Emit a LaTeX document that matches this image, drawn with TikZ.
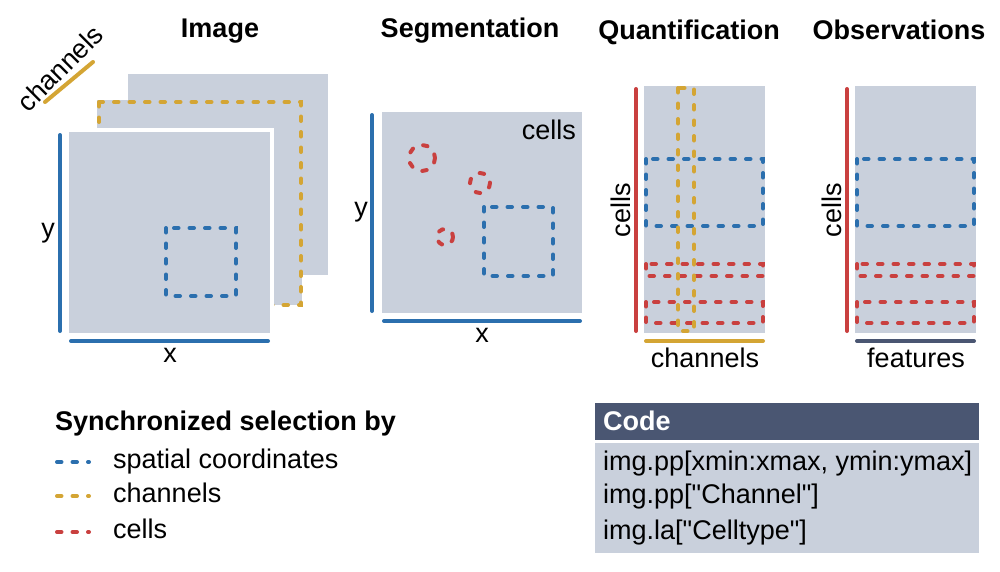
\documentclass[tikz,border=0pt]{standalone}
\usepackage{fontspec}
\setmainfont{Liberation Sans}
\newfontfamily\codefont{Liberation Sans}[Ligatures=ResetAll]
\usepackage{tikz}

\definecolor{panel}{HTML}{C9D0DC}
\definecolor{selblue}{HTML}{2B6FAE}
\definecolor{selgold}{HTML}{D4A534}
\definecolor{selred}{HTML}{C9403F}
\definecolor{slate}{HTML}{4A5672}

\tikzset{
  axis/.style={line width=4pt, line cap=round},
  sel/.style={line width=4pt, line cap=round, dash pattern=on 4.5pt off 11pt},
  lbl/.style={font=\fontsize{27}{32}\selectfont, inner sep=0pt},
  ttl/.style={font=\fontsize{27}{32}\selectfont\bfseries, inner sep=0pt, anchor=base},
  codeline/.style={font=\codefont\fontsize{27}{32}\selectfont, inner sep=0pt, anchor=base west},
}

\begin{document}
\begin{tikzpicture}[x=1pt, y=-1pt]
    \useasboundingbox (0,0) rectangle (1000,571);

    % Titles
    \node[ttl] (tImage) at (220,37) {Image};
    \node[ttl] (tSeg) at (470,37) {Segmentation};
    \node[ttl] (tQuant) at (689,39) {Quantification};
    \node[ttl] (tObs) at (899,39) {Observations};

    % Image: stack of channels
    \fill[panel] (128,74) rectangle (328,275);
    \fill[panel] (97,100) rectangle (302,305);
    \draw[sel, selgold] (99,102) rectangle (301,305);
    \fill[white] (65,128) rectangle (274,337);
    \fill[panel] (69,132) rectangle (270,333);
    \draw[sel, selblue] (166,228) rectangle (236,296);

    \draw[axis, selblue] (60,135) -- (60,331);
    \draw[axis, selblue] (71,341) -- (268,341);
    \node[lbl, anchor=base] (imgY) at (48,237) {y};
    \node[lbl, anchor=base] (imgX) at (170,362) {x};

    \draw[axis, selgold] (45,102) -- (93,62);
    \node[lbl, rotate=45] (imgC) at (60,68) {channels};

    % Segmentation
    \fill[panel] (382,112) rectangle (582,313);
    \draw[sel, selblue] (484,207) rectangle (553,276);
    \foreach \cx/\cy/\r in {422/158/13, 480/183/10, 445/237/8} {
      \draw[sel, selred] (\cx,\cy) circle (\r);
    }
    \node[lbl, anchor=base east] (segCells) at (576,139) {cells};

    \draw[axis, selblue] (372,115) -- (372,311);
    \draw[axis, selblue] (384,321) -- (580,321);
    \node[lbl, anchor=base] (segY) at (361,216) {y};
    \node[lbl, anchor=base] (segX) at (482,342) {x};

    % Quantification and Observations
    \foreach \x/\name in {644/quant, 855/obs} {
      \fill[panel] (\x,86) rectangle ({\x+121},333);
      \draw[sel, selblue] ({\x+2},159) rectangle ({\x+119},226);
      \draw[sel, selred] ({\x+2},264) rectangle ({\x+119},276);
      \draw[sel, selred] ({\x+2},302) rectangle ({\x+119},323);
      \draw[axis, selred] ({\x-8},89) -- ({\x-8},331);
      \node[lbl, rotate=90] (\name Cells) at ({\x-23},210) {cells};
    }
    \draw[sel, selgold] (678,88) rectangle (694,331);

    \draw[axis, selgold] (646,341) -- (763,341);
    \draw[axis, slate] (857,341) -- (974,341);
    \node[lbl, anchor=base] (quantX) at (705,367) {channels};
    \node[lbl, anchor=base] (obsX) at (916,367) {features};

    % Legend
    \node[lbl, font=\fontsize{27}{32}\selectfont\bfseries, anchor=base west] (legTitle) at (55,430) {Synchronized selection by};
    \foreach \y/\c/\txt/\name in {462/selblue/spatial coordinates/legBlue, 496/selgold/channels/legGold, 532/selred/cells/legRed} {
      \draw[sel, \c] (57,\y) -- (89,\y);
      \node[lbl, anchor=base west] (\name) at (113,{\y+6}) {\txt};
    }

    % Code table
    \fill[slate] (595,403) rectangle (979,440);
    \fill[panel] (595,443) rectangle (979,553);
    \node[lbl, font=\fontsize{27}{32}\selectfont\bfseries, text=white, anchor=base west] (codeHead) at (603,430) {Code};
    \node[codeline] (code1) at (603,470) {img.pp[xmin:xmax, ymin:ymax]};
    \node[codeline] (code2) at (603,503) {img.pp["Channel"]};
    \node[codeline] (code3) at (603,539) {img.la["Celltype"]};

\end{tikzpicture}
\end{document}
